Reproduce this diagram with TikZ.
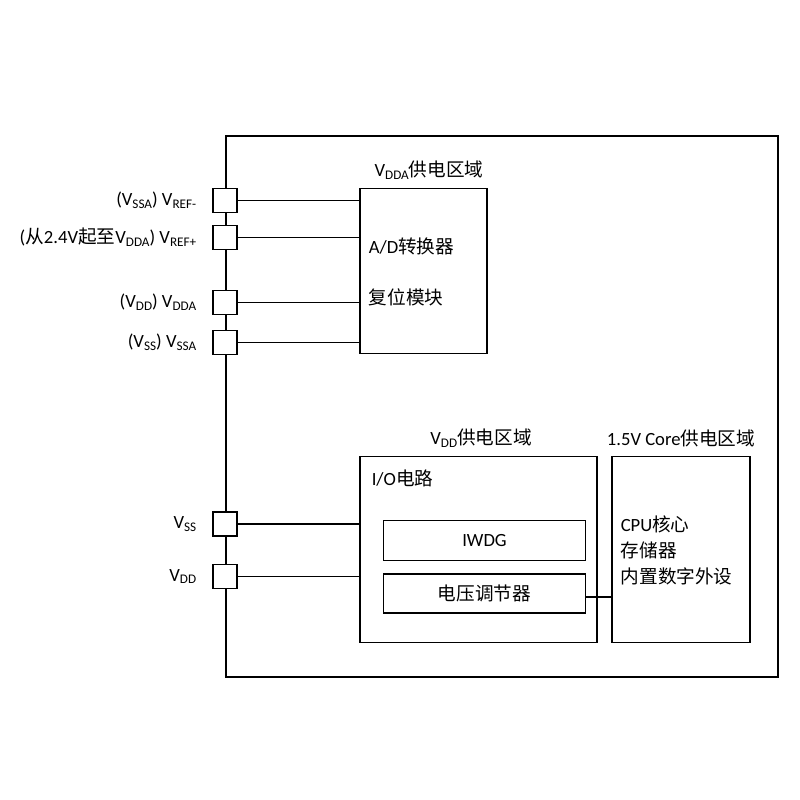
\documentclass[tikz,border=0pt]{standalone}
\usepackage{fontspec}
\setmainfont{Carlito}
\newfontfamily\cjk{Noto Sans CJK SC}
\newcommand\zh[1]{{\cjk #1}}
\newcommand\sbs[1]{\raisebox{-0.3ex}{\fontsize{7.5}{8}\selectfont #1}}
\begin{document}
\begin{tikzpicture}[x=0.02cm,y=-0.02cm, line width=0.9pt,
  font=\fontsize{10.6}{12}\selectfont,
  pin/.style={draw, fill=white, minimum width=0.48cm, minimum height=0.48cm, inner sep=0},
  blk/.style={draw, inner sep=0},
  lbl/.style={anchor=east, inner sep=0},
  txt/.style={anchor=west, inner sep=0},
  ttl/.style={inner sep=0}]
\useasboundingbox (0,0) rectangle (800,800);
% outer frame
\draw (226,136) rectangle (778,677);
% blocks
\node[blk, minimum width=2.54cm, minimum height=3.3cm] (vdda) at (423.5,271) {};
\node[blk, minimum width=4.74cm, minimum height=3.72cm] (vdd) at (478.5,549.5) {};
\node[blk, minimum width=4.04cm, minimum height=0.8cm] (iwdg) at (484.5,540.5) {IWDG};
\node[blk, minimum width=4.04cm, minimum height=0.78cm] (reg) at (484.5,593.5) {\zh{电压调节器}};
\node[blk, minimum width=2.76cm, minimum height=3.72cm] (core) at (681,549.5) {};
% titles
\node[ttl] (t1) at (429,170) {V\sbs{DDA}\zh{供电区域}};
\node[ttl] (t2) at (481,438) {V\sbs{DD}\zh{供电区域}};
\node[ttl] (t3) at (681,438) {1.5V Core\zh{供电区域}};
% inner texts
\node[txt] (ad) at (368,246) {A/D\zh{转换器}};
\node[txt] (rst) at (368,297) {\zh{复位模块}};
\node[txt] (io) at (371,478) {I/O\zh{电路}};
\node[txt] (cpu) at (620,524) {CPU\zh{核心}};
\node[txt] (mem) at (620,550) {\zh{存储器}};
\node[txt] (per) at (620,576) {\zh{内置数字外设}};
% pins
\node[pin] (p1) at (225,200.5) {};
\node[pin] (p2) at (225,237.5) {};
\node[pin] (p3) at (225,302.5) {};
\node[pin] (p4) at (225,342.5) {};
\node[pin] (p5) at (225,524) {};
\node[pin] (p6) at (225,576.5) {};
% pin labels
\node[lbl] (l1) at (197,200.5) {(V\sbs{SSA}) V\sbs{REF-}};
\node[lbl] (l2) at (197,237.5) {(\zh{从}2.4V\zh{起至}V\sbs{DDA}) V\sbs{REF+}};
\node[lbl] (l3) at (197,302.5) {(V\sbs{DD}) V\sbs{DDA}};
\node[lbl] (l4) at (197,342.5) {(V\sbs{SS}) V\sbs{SSA}};
\node[lbl] (l5) at (197,524) {V\sbs{SS}};
\node[lbl] (l6) at (197,576.5) {V\sbs{DD}};
% connectors
\draw (p1.east) -- (p1.east -| vdda.west);
\draw (p2.east) -- (p2.east -| vdda.west);
\draw (p3.east) -- (p3.east -| vdda.west);
\draw (p4.east) -- (p4.east -| vdda.west);
\draw (p5.east) -- (p5.east -| vdd.west);
\draw (p6.east) -- (p6.east -| vdd.west);
\draw ([yshift=-0.07cm]reg.east) -- ([yshift=-0.07cm]reg.east -| core.west);
\end{tikzpicture}
\end{document}
